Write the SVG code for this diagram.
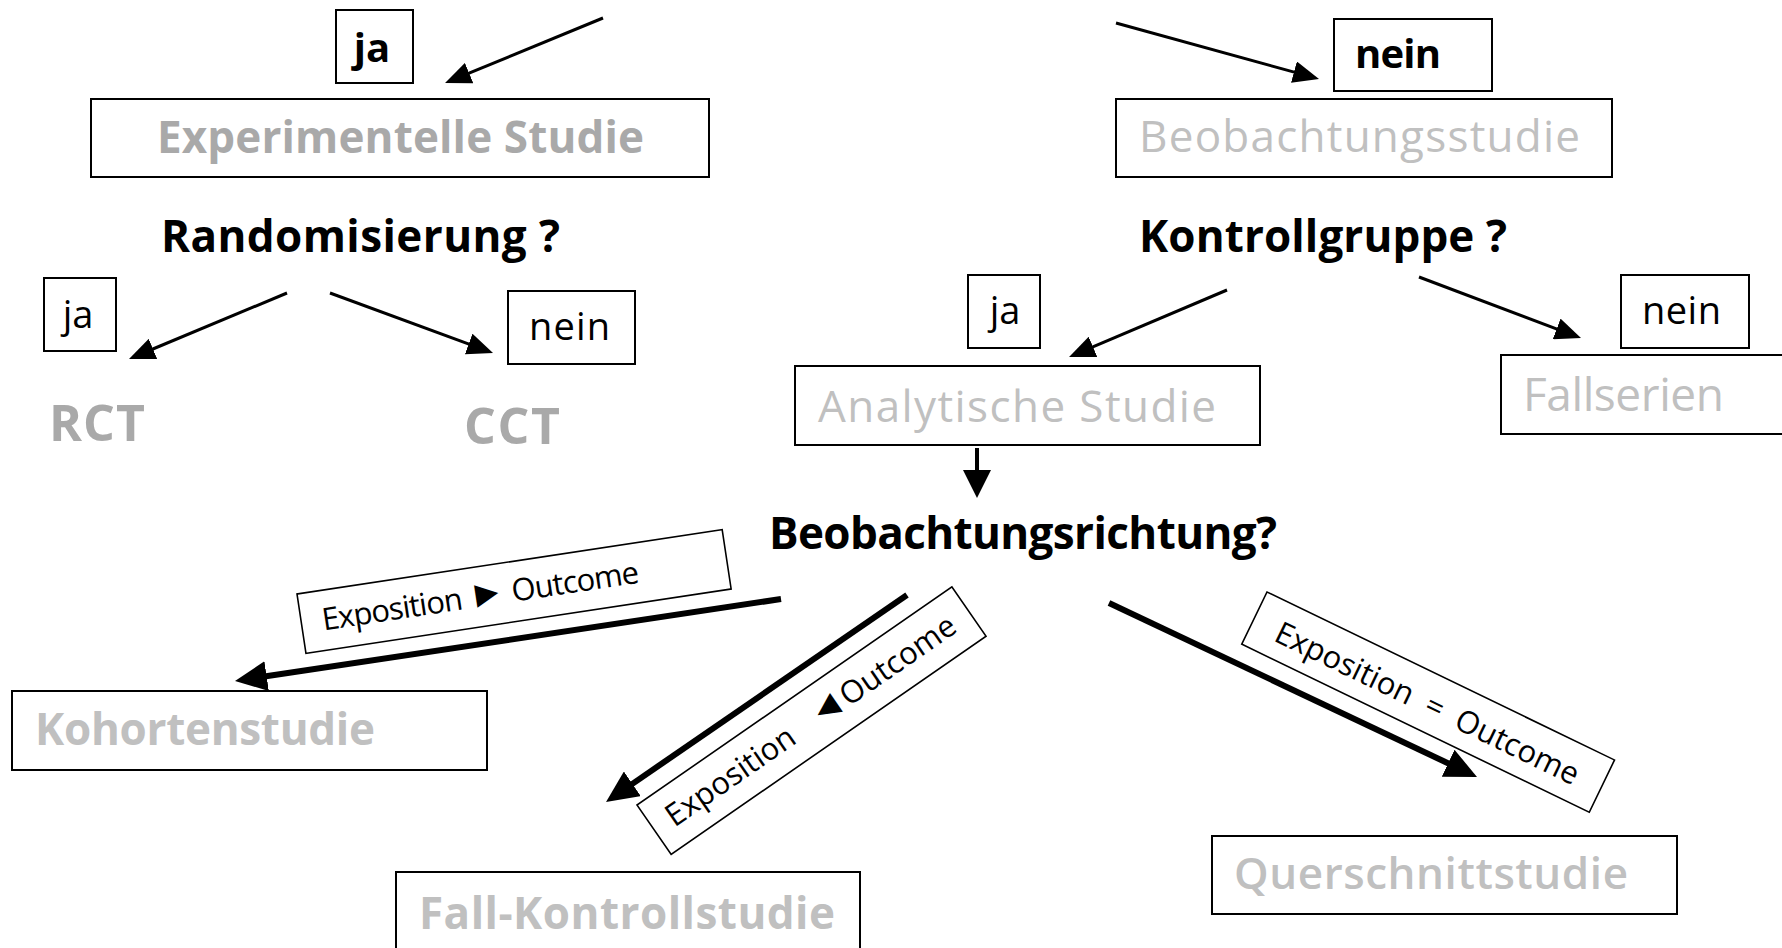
<svg xmlns="http://www.w3.org/2000/svg" width="1782" height="948" viewBox="0 0 1782 948">
<style>
  text { font-family: "Open Sans", "Liberation Sans", "DejaVu Sans", sans-serif; }
  .box { fill: #ffffff; stroke: #000000; stroke-width: 2; }
  .lbox { fill: #ffffff; stroke: #000000; stroke-width: 1.6; }
  .q { font-size: 44px; font-weight: 700; fill: #000000; }
  .yn { font-size: 38px; font-weight: 400; fill: #000000; }
  .ynb { font-size: 40px; font-weight: 700; fill: #000000; }
  .g1 { font-size: 44px; font-weight: 700; fill: #a9a9a9; }
  .g2 { font-size: 44px; font-weight: 700; fill: #c0c0c0; }
  .g3 { font-size: 44px; font-weight: 400; fill: #c0c0c0; }
  .lab { font-size: 31px; font-weight: 400; fill: #000000; }
  .tri { font-family: "Liberation Sans", "DejaVu Sans", sans-serif; font-size: 38px; }
  .thin { stroke: #000000; stroke-width: 3; fill: none; }
  .mid { stroke: #000000; stroke-width: 4; fill: none; }
  .thick { stroke: #000000; stroke-width: 6; fill: none; }
</style>
<defs>
  <marker id="ah" markerUnits="userSpaceOnUse" markerWidth="26" markerHeight="22" refX="4" refY="11" orient="auto">
    <path d="M0,0 L26,11 L0,22 z" fill="#000000"/>
  </marker>
  <marker id="ahm" markerUnits="userSpaceOnUse" markerWidth="28" markerHeight="28" refX="4" refY="14" orient="auto">
    <path d="M0,0 L28,14 L0,28 z" fill="#000000"/>
  </marker>
  <marker id="ahb" markerUnits="userSpaceOnUse" markerWidth="32" markerHeight="30" refX="4" refY="15" orient="auto">
    <path d="M0,0 L32,15 L0,30 z" fill="#000000"/>
  </marker>
</defs>
<rect x="0" y="0" width="1782" height="948" fill="#ffffff"/>

<g id="connectors">
  <line class="thin" x1="603" y1="18" x2="465.4" y2="74.6" marker-end="url(#ah)"/>
  <line class="thin" x1="1116" y1="23" x2="1297.8" y2="73.1" marker-end="url(#ah)"/>
  <line class="thin" x1="287" y1="293" x2="149.3" y2="350.5" marker-end="url(#ah)"/>
  <line class="thin" x1="330" y1="293" x2="472.4" y2="345.4" marker-end="url(#ah)"/>
  <line class="thin" x1="1227" y1="290" x2="1089.3" y2="348.4" marker-end="url(#ah)"/>
  <line class="thin" x1="1419" y1="277" x2="1560.4" y2="330.3" marker-end="url(#ah)"/>
  <line class="mid" x1="977" y1="448" x2="977" y2="474" marker-end="url(#ahm)"/>
  <line class="thick" x1="781" y1="599" x2="262.7" y2="676.8" marker-end="url(#ahb)"/>
  <line class="thick" x1="907" y1="595" x2="629.1" y2="786.1" marker-end="url(#ahb)"/>
  <line class="thick" x1="1109" y1="603" x2="1451.7" y2="765" marker-end="url(#ahb)"/>
</g>

<g id="ja-top">
  <rect class="box" x="336" y="10" width="77" height="73"/>
  <text class="ynb" x="372" y="62" text-anchor="middle">ja</text>
</g>
<g id="nein-top">
  <rect class="box" x="1334" y="19" width="158" height="72"/>
  <text class="ynb" x="1355" y="68" textLength="86">nein</text>
</g>
<g id="experimentelle-studie">
  <rect class="box" x="91" y="99" width="618" height="78"/>
  <text class="g1" x="157" y="153" textLength="487">Experimentelle Studie</text>
</g>
<g id="beobachtungsstudie">
  <rect class="box" x="1116" y="99" width="496" height="78"/>
  <text class="g3" x="1139" y="152" textLength="441" style="font-weight:500">Beobachtungsstudie</text>
</g>
<g id="randomisierung">
  <text class="q" x="161" y="252" textLength="399">Randomisierung ?</text>
</g>
<g id="kontrollgruppe">
  <text class="q" x="1139" y="252" textLength="368">Kontrollgruppe ?</text>
</g>
<g id="ja-rct">
  <rect class="box" x="44" y="278" width="72" height="73"/>
  <text class="yn" x="78" y="328" text-anchor="middle">ja</text>
</g>
<g id="nein-cct">
  <rect class="box" x="508" y="291" width="127" height="73"/>
  <text class="yn" x="529" y="340" textLength="81">nein</text>
</g>
<g id="rct">
  <text class="g1" x="49" y="441" textLength="96" style="font-size:50px">RCT</text>
</g>
<g id="cct">
  <text class="g1" x="464" y="444" textLength="96" style="font-size:50px">CCT</text>
</g>
<g id="ja-analytisch">
  <rect class="box" x="968" y="275" width="72" height="73"/>
  <text class="yn" x="1005" y="324" text-anchor="middle">ja</text>
</g>
<g id="nein-fallserien">
  <rect class="box" x="1621" y="275" width="128" height="73"/>
  <text class="yn" x="1642" y="324" textLength="79">nein</text>
</g>
<g id="analytische-studie">
  <rect class="box" x="795" y="366" width="465" height="79"/>
  <text class="g3" x="818" y="422" textLength="398">Analytische Studie</text>
</g>
<g id="fallserien">
  <rect class="box" x="1501" y="355" width="300" height="79"/>
  <text class="g3" x="1523" y="411" textLength="201" style="font-size:46px">Fallserien</text>
</g>
<g id="beobachtungsrichtung">
  <text class="q" x="769" y="549" textLength="508">Beobachtungsrichtung?</text>
</g>
<g id="label-kohorte" transform="translate(297,594) rotate(-8.6)">
  <rect class="lbox" x="0" y="0" width="430" height="60"/>
  <text class="lab" x="21" y="40" textLength="320">Exposition <tspan class="tri">►</tspan> Outcome</text>
</g>
<g id="kohortenstudie">
  <rect class="box" x="12" y="691" width="475" height="79"/>
  <text class="g2" x="35" y="745" textLength="340">Kohortenstudie</text>
</g>
<g id="label-fallkontroll" transform="translate(637,805) rotate(-34.7)">
  <rect class="lbox" x="0" y="0" width="383" height="60"/>
  <text class="lab" x="18" y="40">Exposition<tspan class="tri" dx="24">◄</tspan><tspan>Outcome</tspan></text>
</g>
<g id="fall-kontrollstudie">
  <rect class="box" x="396" y="872" width="464" height="90"/>
  <text class="g2" x="419" y="929" textLength="416">Fall-Kontrollstudie</text>
</g>
<g id="label-querschnitt" transform="translate(1267,592) rotate(25.8)">
  <rect class="lbox" x="0" y="0" width="386" height="58"/>
  <text class="lab" x="26" y="41">Exposition<tspan dx="16">=</tspan><tspan dx="16">Outcome</tspan></text>
</g>
<g id="querschnittstudie">
  <rect class="box" x="1212" y="836" width="465" height="78"/>
  <text class="g2" x="1234" y="889" textLength="394" style="font-weight:600">Querschnittstudie</text>
</g>
</svg>
